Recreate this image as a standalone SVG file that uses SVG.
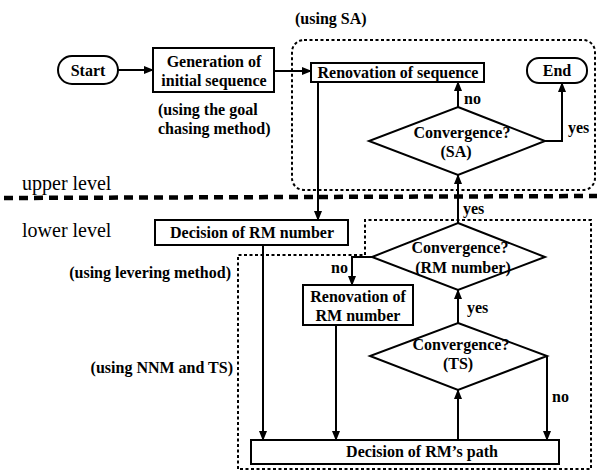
<svg xmlns="http://www.w3.org/2000/svg" width="599" height="473" viewBox="0 0 599 473" font-family="'Liberation Serif', 'DejaVu Serif', serif">
<style>
.box{fill:#fff;stroke:#000;stroke-width:2}
.ln{fill:none;stroke:#000;stroke-width:2}
text{font-family:'Liberation Serif','DejaVu Serif',serif}
.t{font-size:16px;font-weight:bold;fill:#000;text-anchor:middle}
.l{text-anchor:start}
.r{text-anchor:end}
.big{font-size:20px;font-weight:normal}
.dot{fill:none;stroke:#000;stroke-width:2;stroke-dasharray:3 2.5}
.heavy{fill:none;stroke:#000;stroke-width:4.5;stroke-dasharray:9 6}
</style>
<defs>
<marker id="ah" markerUnits="userSpaceOnUse" markerWidth="10" markerHeight="8" refX="9" refY="4" orient="auto">
<path d="M0,0 L10,4 L0,8 Z" fill="#000"/>
</marker>
</defs>
<rect width="599" height="473" fill="#fff"/>

<!-- regions -->
<rect class="dot" x="292" y="40" width="303" height="150" rx="12"/>
<path class="dot" d="M238,469 L238,255 L365,255 L365,220 L591,220 L591,469 Z"/>
<line class="heavy" x1="4" y1="198" x2="597" y2="196"/>
<text class="t l big" x="22" y="190">upper level</text>
<text class="t l big" x="22" y="237">lower level</text>
<text class="t l" x="295" y="24">(using SA)</text>
<text class="t l" x="158" y="115">(using the goal</text>
<text class="t l" x="158" y="134">chasing method)</text>
<text class="t r" x="231" y="278">(using levering method)</text>
<text class="t r" x="233" y="373">(using NNM and TS)</text>

<g id="connectors">
<line class="ln" x1="118" y1="70" x2="153" y2="70" marker-end="url(#ah)"/>
<line class="ln" x1="274" y1="71" x2="311" y2="71" marker-end="url(#ah)"/>
<line class="ln" x1="318" y1="82" x2="318" y2="220" marker-end="url(#ah)"/>
<line class="ln" x1="458" y1="107" x2="458" y2="82" marker-end="url(#ah)"/>
<polyline class="ln" points="545,141 562,141 562,83" marker-end="url(#ah)"/>
<line class="ln" x1="458" y1="223" x2="458" y2="175" marker-end="url(#ah)"/>
<polyline class="ln" points="372,257 352,257 352,285" marker-end="url(#ah)"/>
<line class="ln" x1="458" y1="323" x2="458" y2="290" marker-end="url(#ah)"/>
<line class="ln" x1="458" y1="440" x2="458" y2="390" marker-end="url(#ah)"/>
<polyline class="ln" points="547,356 547,440" marker-end="url(#ah)"/>
<line class="ln" x1="263" y1="245" x2="263" y2="440" marker-end="url(#ah)"/>
<line class="ln" x1="336" y1="325" x2="336" y2="440" marker-end="url(#ah)"/>
<text class="t l" x="464" y="104">no</text>
<text class="t l" x="568" y="133">yes</text>
<text class="t l" x="463" y="214">yes</text>
<text class="t l" x="331" y="273">no</text>
<text class="t l" x="467" y="313">yes</text>
<text class="t l" x="552" y="402">no</text>
</g>

<g id="start">
<rect class="box" x="58" y="56" width="60" height="28" rx="14"/>
<text class="t" x="88" y="76">Start</text>
</g>
<g id="generation">
<rect class="box" x="153" y="48" width="121" height="44"/>
<text class="t" x="214" y="67">Generation of</text>
<text class="t" x="214" y="86">initial sequence</text>
</g>
<g id="renovation-seq">
<rect class="box" x="311" y="63" width="173" height="19"/>
<text class="t" x="398" y="78">Renovation of sequence</text>
</g>
<g id="end">
<rect class="box" x="527" y="58" width="60" height="25" rx="12"/>
<text class="t" x="557" y="76">End</text>
</g>
<g id="conv-sa">
<polygon class="box" points="458,107 545,141 458,175 369,141"/>
<text class="t" x="462" y="138">Convergence?</text>
<text class="t" x="456" y="157">(SA)</text>
</g>
<g id="decision-rm-number">
<rect class="box" x="155" y="220" width="193" height="25"/>
<text class="t" x="252" y="238">Decision of RM number</text>
</g>
<g id="conv-rm">
<polygon class="box" points="458,223 545,257 458,290 372,257"/>
<text class="t" x="460" y="253">Convergence?</text>
<text class="t" x="463" y="273">(RM number)</text>
</g>
<g id="renovation-rm">
<rect class="box" x="303" y="285" width="110" height="40"/>
<text class="t" x="358" y="302">Renovation of</text>
<text class="t" x="358" y="321">RM number</text>
</g>
<g id="conv-ts">
<polygon class="box" points="458,323 547,356 458,390 370,356"/>
<text class="t" x="461" y="350">Convergence?</text>
<text class="t" x="458" y="369">(TS)</text>
</g>
<g id="decision-path">
<rect class="box" x="251" y="440" width="308" height="24"/>
<text class="t" x="422" y="457">Decision of RM’s path</text>
</g>
</svg>
